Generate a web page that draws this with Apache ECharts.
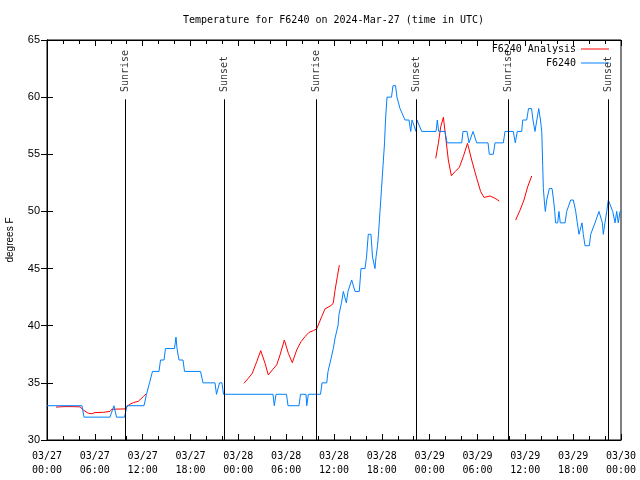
<!DOCTYPE html>
<html><head><meta charset="utf-8">
<script src="https://cdn.jsdelivr.net/npm/echarts@6/dist/echarts.min.js"></script>
<style>html,body{margin:0;padding:0;background:#fff}#c{width:640px;height:480px}</style>
</head><body><div id="c"></div>
<script>
// time in hours since 2024-03-27 00:00 UTC
const xTickLabelsDays = ['03/27','03/28','03/29','03/30'];
const sunrise = [9.82, 33.82, 57.85];
const sunset = [22.25, 46.32, 70.4];

const obsT = [0,4.39,4.64,7.90,8.40,8.72,9.72,10.04,12.17,12.48,12.67,12.86,13.05,13.23,14.05,14.24,14.68,14.86,15.99,16.18,16.31,16.56,17.06,17.25,19.26,19.57,21.07,21.26,21.45,21.64,21.95,22.14,28.35,28.51,28.73,30.04,30.23,31.61,31.80,32.49,32.58,32.78,34.31,34.50,35.09,35.25,35.44,35.59,35.75,35.91,36.06,36.16,36.34,36.50,36.63,36.75,36.94,37.17,37.38,37.55,37.76,38.01,38.22,38.42,38.64,39.17,39.39,39.89,40.08,40.30,40.64,40.83,41.02,41.14,41.27,41.46,41.58,41.77,41.96,42.15,42.34,42.46,42.65,43.21,43.40,43.72,43.90,44.28,44.53,44.91,45.41,45.62,45.79,45.95,46.29,46.41,46.66,47.00,48.80,48.96,49.13,49.92,50.18,52.02,52.18,52.68,52.94,53.44,53.69,53.90,55.32,55.48,55.98,56.20,57.24,57.45,58.49,58.74,58.99,59.55,59.67,60.17,60.40,60.78,60.96,61.21,61.43,61.68,61.90,62.06,62.18,62.26,62.43,62.51,62.68,62.85,63.01,63.35,63.54,63.69,63.79,64.06,64.22,64.38,64.98,65.19,65.39,65.69,66.02,66.32,66.52,66.73,66.86,67.11,67.27,67.49,68.03,68.20,68.45,68.74,68.95,69.24,69.45,69.66,69.78,69.99,70.21,70.41,70.62,70.96,71.25,71.46,71.66,71.88,72.0];
const obsV = [33,33,32,32,33,32,32,33,33,34,34,35,35,36,36,37,37,38,38,39,38,37,37,36,36,35,35,34,34,35,35,34,34,33,34,34,33,33,34,34,33,34,34,35,35,36,36,37,37,38,38,39,39,40,41,41,42,43,43,42,43,43,44,44,43,43,45,45,46,48,48,46,46,45,46,47,48,50,52,54,56,58,60,60,61,61,60,59,59,58,58,57,58,58,57,58,58,57,57,58,57,57,56,56,57,57,56,57,57,56,56,55,55,56,56,57,57,56,57,57,58,58,59,59,58,57,57,59,58,57,54,52,50.5,50,51,51,52,52,51,50,49,49,50,49,49,50,50,51,51,50,49,48,48,49,48,47,47,48,48,49,49,50,50,49,48,49,50,51,51,50,49,50,49,50,50];

const anaT1 = [1.13,2.13,3.14,4.14,4.55,5.18,5.61,6.02,7.06,7.28,7.90,8.12,9.78,10.00,10.41,10.83,11.45,11.67,12.08,12.42];
const anaV1 = [32.88,32.92,32.92,32.9,32.63,32.34,32.3,32.4,32.42,32.48,32.5,32.69,32.72,32.92,33.13,33.27,33.39,33.5,33.8,34.03];
const anaT2 = [24.71,25.25,25.75,26.31,26.81,27.35,27.76,28.26,28.81,29.23,29.77,30.27,30.77,31.32,31.86,32.36,32.87,33.41,33.83,34.46,34.87,35.71,35.91,36.13,36.42,36.67];
const anaV2 = [34.96,35.4,35.84,36.86,37.82,36.71,35.69,36.13,36.57,37.44,38.75,37.59,36.77,37.88,38.6,39.04,39.42,39.57,39.72,40.8,41.47,41.8,42.0,43.1,44.3,45.3];
const anaT3 = [48.76,49.09,49.39,49.72,50.05,50.34,50.72,51.18,51.72,52.22,52.75,53.27,53.90,54.40,54.82,55.57,56.20,56.74];
const anaV3 = [54.65,55.96,57.42,58.24,56.25,54.5,53.12,53.48,53.86,54.8,55.96,54.5,52.9,51.73,51.22,51.35,51.15,50.9];
const anaT4 = [58.79,59.33,59.83,60.30,60.80];
const anaV4 = [49.25,50.1,51.0,52.17,53.1];

function zip(t, v) { return t.map((x, i) => [x, v[i]]); }
const obsData = zip(obsT, obsV);
const anaData = [].concat(zip(anaT1, anaV1), [[12.5, null]], zip(anaT2, anaV2), [[37, null]],
  zip(anaT3, anaV3), [[57, null]], zip(anaT4, anaV4));

const sunLabelY = 60.45, sunLineTop = 59.81;
const sunPts = [];
const sunLines = [];
sunrise.forEach(t => { sunPts.push([t, sunLabelY, 'Sunrise']); sunLines.push([{coord:[t,30]},{coord:[t,sunLineTop]}]); });
sunset.forEach(t => { sunPts.push([t, sunLabelY, 'Sunset']); sunLines.push([{coord:[t,30]},{coord:[t,sunLineTop]}]); });

const mono = 'DejaVu Sans Mono';
const sans = 'Liberation Sans';
function pad(n){ return (n<10?'0':'')+n; }

const chart = echarts.init(document.getElementById('c'), null, {renderer:'canvas'});
chart.setOption({
  animation: false,
  backgroundColor: '#fff',
  title: { text: 'Temperature for F6240 on 2024-Mar-27 (time in UTC)', left: 183, top: 15,
    textStyle: { fontFamily: mono, fontSize: 10, fontWeight: 'normal', color: '#000' }, padding: 0 },
  legend: [
    { data: [{name:'F6240 Analysis', icon:'rect'}], right: 31, top: 44, align: 'right', itemWidth: 28, itemHeight: 1,
      textStyle: { fontFamily: mono, fontSize: 10, color: '#000' }, padding: 0 },
    { data: [{name:'F6240', icon:'rect'}], right: 31, top: 58, align: 'right', itemWidth: 28, itemHeight: 1,
      textStyle: { fontFamily: mono, fontSize: 10, color: '#000' }, padding: 0 }
  ],
  grid: { left: 47, right: 19, top: 40, bottom: 40, show: true, borderColor: '#000', borderWidth: 1,
    backgroundColor: 'transparent', containLabel: false, outerBoundsMode: 'none' },
  xAxis: [
    { type: 'value', min: 0, max: 72, interval: 6, position: 'bottom',
      axisLine: { show: true, lineStyle: { color: '#000', width: 1 } },
      axisTick: { show: true, inside: true, length: 6, lineStyle: { color: '#000' } },
      minorTick: { show: true, splitNumber: 3, length: 4, lineStyle: { color: '#000' } },
      splitLine: { show: false },
      axisLabel: { margin: 9, fontFamily: mono, fontSize: 10, color: '#000', lineHeight: 14,
        formatter: v => { const d = Math.floor(v / 24); const h = v - d * 24; return xTickLabelsDays[d] + '\n' + pad(h) + ':00'; } } },
    { type: 'value', min: 0, max: 72, interval: 6, position: 'top',
      axisLine: { show: true, lineStyle: { color: '#000', width: 1 } },
      axisTick: { show: true, inside: true, length: 6, lineStyle: { color: '#000' } },
      minorTick: { show: true, splitNumber: 3, length: 4, lineStyle: { color: '#000' } },
      splitLine: { show: false }, axisLabel: { show: false } }
  ],
  yAxis: [
    { type: 'value', min: 30, max: 65, interval: 5, position: 'left',
      name: 'degrees F', nameLocation: 'middle', nameGap: 32, nameRotate: 90,
      nameTextStyle: { fontFamily: sans, fontSize: 10, color: '#000' },
      axisLine: { show: true, lineStyle: { color: '#000', width: 1 } },
      axisTick: { show: true, inside: true, length: 6, lineStyle: { color: '#000' } },
      splitLine: { show: false },
      axisLabel: { margin: 7, fontFamily: sans, fontSize: 11, color: '#000' } },
    { type: 'value', min: 30, max: 65, interval: 5, position: 'right',
      axisLine: { show: true, lineStyle: { color: '#000', width: 1 } },
      axisTick: { show: true, inside: true, length: 6, lineStyle: { color: '#000' } },
      splitLine: { show: false }, axisLabel: { show: false } }
  ],
  series: [
    { name: 'F6240 Analysis', type: 'line', data: anaData, showSymbol: false, connectNulls: false,
      lineStyle: { color: '#ff0000', width: 1 }, itemStyle: { color: '#ff0000' }, z: 3 },
    { name: 'F6240', type: 'line', data: obsData, showSymbol: false,
      lineStyle: { color: '#0080ff', width: 1 }, itemStyle: { color: '#0080ff' }, z: 4 },
    { name: 'sun', type: 'scatter', data: sunPts, symbolSize: 0, silent: true, z: 5,
      label: { show: true, position: [0, 0], rotate: 90, align: 'left', verticalAlign: 'middle',
        formatter: p => p.data[2], fontFamily: mono, fontSize: 10, color: '#000' },
      markLine: { silent: true, symbol: ['none', 'none'], label: { show: false },
        lineStyle: { color: '#000', width: 1, type: 'solid' }, data: sunLines } }
  ]
});
</script></body></html>
